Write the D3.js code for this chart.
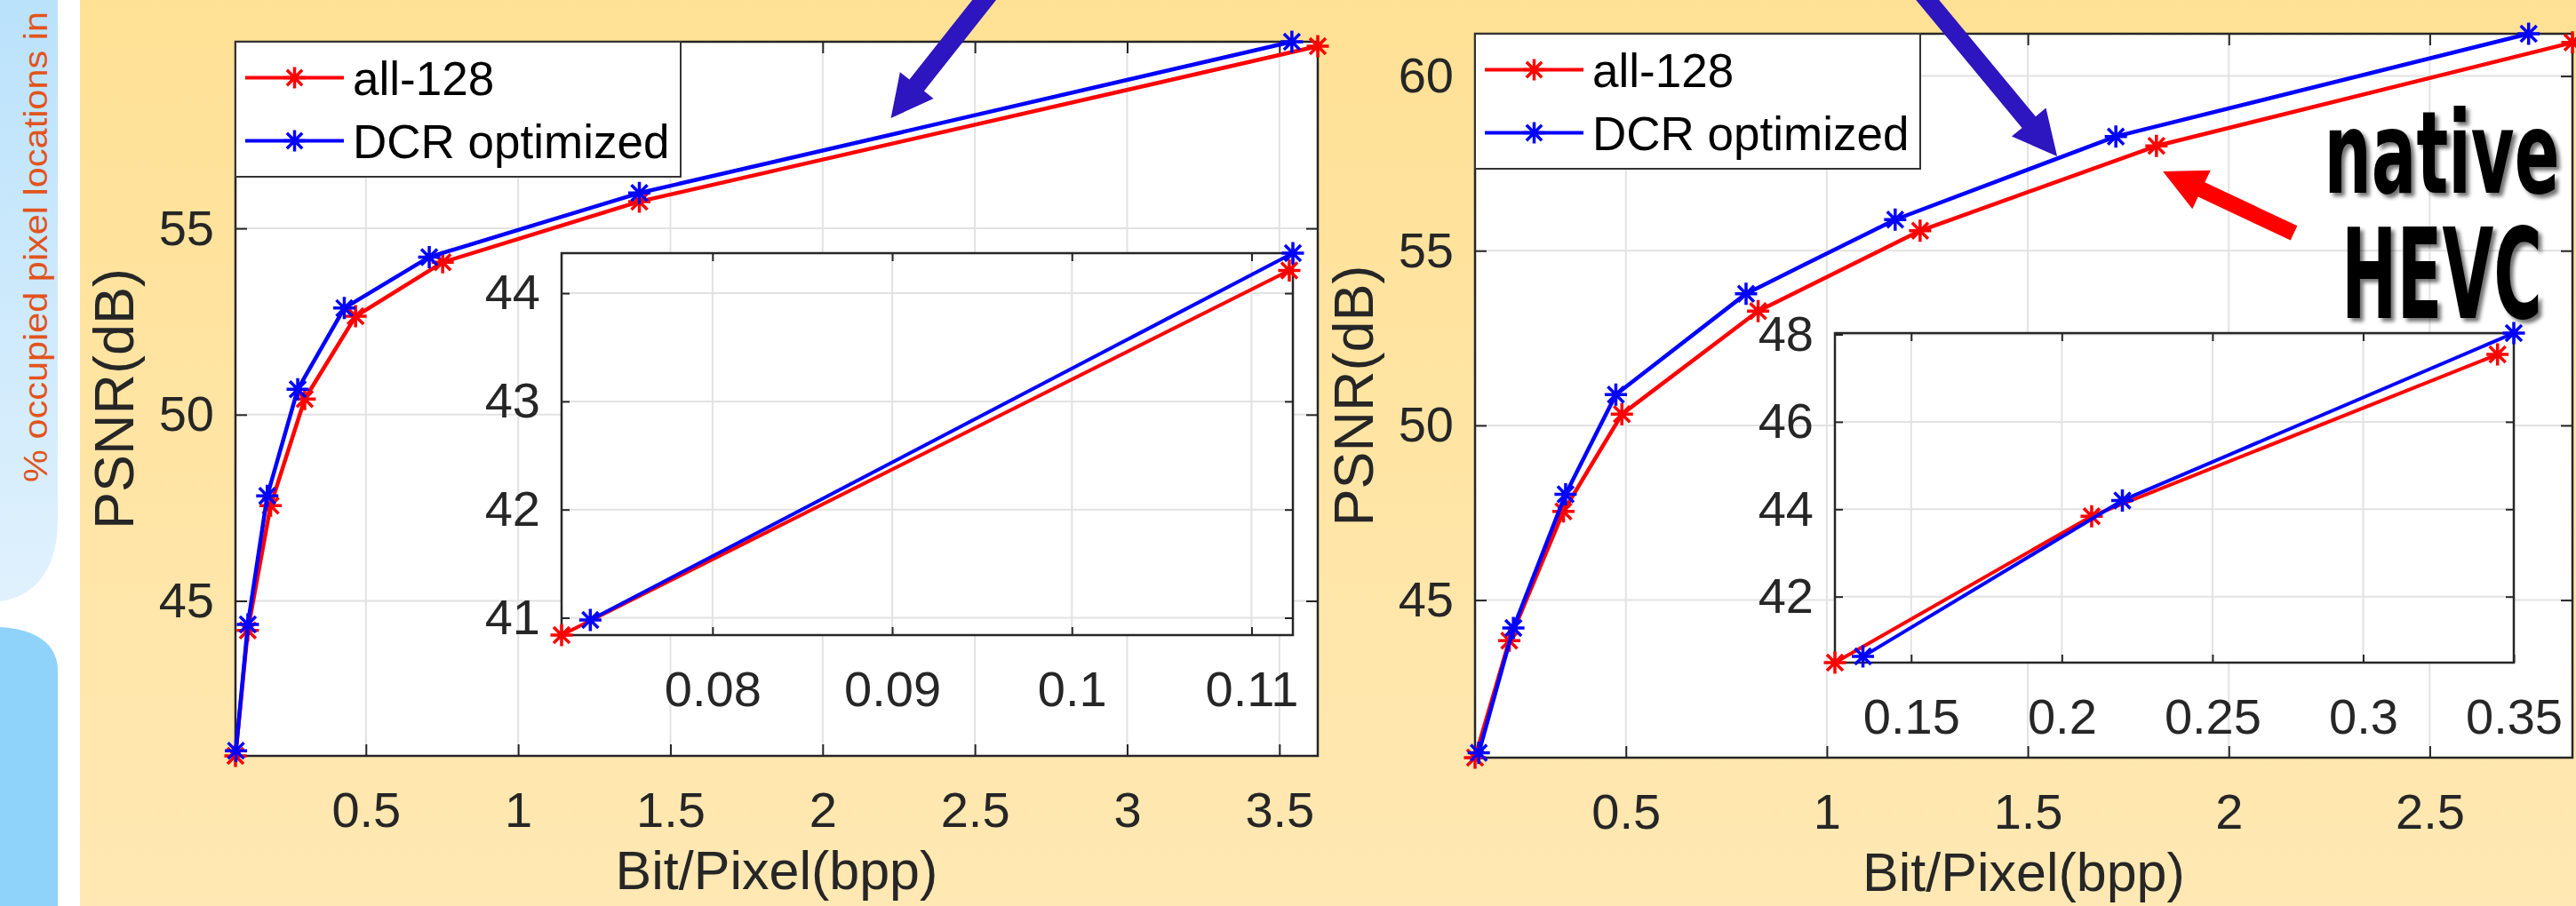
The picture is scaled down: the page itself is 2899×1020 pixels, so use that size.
<!DOCTYPE html>
<meta charset="utf-8">
<style>
body { margin: 0; background: #fff; }
svg { display: block; }
.grid { stroke: #e2e2e2; stroke-width: 2; }
.frame { fill: none; stroke: #262626; stroke-width: 2.5; }
.lab { fill: #262626; font-family: "Liberation Sans", Arial, sans-serif; }
</style>

<svg id="vis" width="2899" height="1020"></svg>
<script src="https://cdn.jsdelivr.net/npm/d3@7"></script>

<script>
// values (PSNR in dB against bits per pixel)
var seriesNames = ["all-128", "DCR optimized"];
var seriesColors = ["#ff0000", "#0000ff"];

// left plot
var leftAllX = [0.0716, 0.1121, 0.187, 0.299, 0.466, 0.752, 1.398, 3.626];
var leftAllY = [40.84, 44.21, 47.56, 50.42, 52.64, 54.09, 55.72, 59.89];
var leftDcrX = [0.0732, 0.1123, 0.176, 0.276, 0.429, 0.708, 1.398, 3.541];
var leftDcrY = [40.98, 44.37, 47.82, 50.68, 52.86, 54.23, 55.95, 60.01];
var leftXTicks = [0.5, 1, 1.5, 2, 2.5, 3, 3.5];
var leftYTicks = [45, 50, 55];
var leftInsetXTicks = [0.08, 0.09, 0.1, 0.11];
var leftInsetYTicks = [41, 42, 43, 44];
var leftInsetCount = 2;   // the inset zooms on the first points only

// right plot
var rightAllX = [0.1247, 0.2099, 0.3446, 0.49, 0.829, 1.232, 1.820, 2.855];
var rightAllY = [40.49, 43.84, 47.54, 50.32, 53.27, 55.57, 58.00, 60.96];
var rightDcrX = [0.134, 0.2201, 0.350, 0.475, 0.799, 1.170, 1.719, 2.746];
var rightDcrY = [40.63, 44.20, 48.03, 50.88, 53.77, 55.89, 58.27, 61.21];
var rightXTicks = [0.5, 1, 1.5, 2, 2.5];
var rightYTicks = [45, 50, 55, 60];
var rightInsetXTicks = [0.15, 0.2, 0.25, 0.3, 0.35];
var rightInsetYTicks = [42, 44, 46, 48];
var rightInsetCount = 3;

// arrow tips, in data units of the plot they point into
var leftArrowTip = [2.224, 57.96];
var rightBlueArrowTip = [1.573, 57.70];
var rightRedArrowTip = [1.836, 57.27];

var font = "'Liberation Sans', Arial, sans-serif";
var svg = d3.select("#vis");

// ---- slide background ----
var defs = svg.append("defs");
var yg = defs.append("linearGradient").attr("id", "yel").attr("x1", 0).attr("y1", 0).attr("x2", 0).attr("y2", 1);
yg.append("stop").attr("offset", 0).attr("stop-color", "#ffe195");
yg.append("stop").attr("offset", 1).attr("stop-color", "#ffe8b3");
var bg = defs.append("linearGradient").attr("id", "lblue").attr("x1", 0).attr("y1", 0).attr("x2", 0).attr("y2", 1);
bg.append("stop").attr("offset", 0).attr("stop-color", "#bae2fb");
bg.append("stop").attr("offset", 1).attr("stop-color", "#e0f1fd");
var sh = defs.append("filter").attr("id", "shadow").attr("x", -0.1).attr("y", -0.1).attr("width", 1.3).attr("height", 1.3);
sh.append("feDropShadow").attr("dx", 4).attr("dy", 4).attr("stdDeviation", 2).attr("flood-color", "#000").attr("flood-opacity", 0.55);

svg.append("rect").attr("x", 90).attr("y", 0).attr("width", 2809).attr("height", 1020).attr("fill", "url(#yel)");
svg.append("path").attr("d", "M0,0H65V585C65,640 40,672 0,677Z").attr("fill", "url(#lblue)");
svg.append("path").attr("d", "M0,706C40,708 65,725 65,755V1020H0Z").attr("fill", "#8fd3fa");
svg.append("text")
    .attr("transform", "translate(53,543) rotate(-90)")
    .attr("font-family", font).attr("font-size", 37)
    .attr("textLength", 530).attr("lengthAdjust", "spacingAndGlyphs")
    .attr("fill", "#e2541c")
    .text("% occupied pixel locations in");

// asterisk marker like matlab '*'
function star(r) {
  var k = r * 0.72;
  return "M0," + (-r) + "V" + r + "M" + (-r) + ",0H" + r +
    "M" + (-k) + "," + (-k) + "L" + k + "," + k + "M" + (-k) + "," + k + "L" + k + "," + (-k);
}

function fmt(d) { return String(d); }

// white box, grid, ticks on all four sides
function drawAxes(g, x, y, xt, yt, tickLen) {
  var r = x.range(), b = y.range();
  g.append("rect").attr("x", r[0]).attr("y", b[1])
    .attr("width", r[1] - r[0]).attr("height", b[0] - b[1]).attr("fill", "#fff");
  g.append("g").selectAll("line").data(xt).join("line")
    .attr("class", "grid").attr("x1", x).attr("x2", x).attr("y1", b[1]).attr("y2", b[0]);
  g.append("g").selectAll("line").data(yt).join("line")
    .attr("class", "grid").attr("y1", y).attr("y2", y).attr("x1", r[0]).attr("x2", r[1]);

  var axes = [
    g.append("g").attr("transform", "translate(0," + b[0] + ")")
      .call(d3.axisBottom(x).tickValues(xt).tickSize(-tickLen).tickPadding(40).tickFormat(fmt)),
    g.append("g").attr("transform", "translate(" + r[0] + ",0)")
      .call(d3.axisLeft(y).tickValues(yt).tickSize(-tickLen).tickPadding(24).tickFormat(fmt)),
    g.append("g").attr("transform", "translate(0," + b[1] + ")")
      .call(d3.axisTop(x).tickValues(xt).tickSize(-tickLen).tickFormat(function() { return ""; })),
    g.append("g").attr("transform", "translate(" + r[1] + ",0)")
      .call(d3.axisRight(y).tickValues(yt).tickSize(-tickLen).tickFormat(function() { return ""; }))
  ];
  axes.forEach(function(a) {
    a.attr("font-size", 56).attr("font-family", font).style("color", "#262626");
    a.select(".domain").remove();
    a.selectAll(".tick line").attr("stroke-width", 2);
  });
  g.append("rect").attr("class", "frame").attr("x", r[0]).attr("y", b[1])
    .attr("width", r[1] - r[0]).attr("height", b[0] - b[1]);
}

function drawSeries(g, x, y, xs, ys, color, lw, n) {
  var pts = d3.zip(xs, ys).slice(0, n);
  g.append("path").datum(pts)
    .attr("d", d3.line().x(function(d) { return x(d[0]); }).y(function(d) { return y(d[1]); }))
    .attr("fill", "none").attr("stroke", color).attr("stroke-width", lw).attr("stroke-linejoin", "round");
  g.append("g").selectAll("path").data(pts).join("path")
    .attr("transform", function(d) { return "translate(" + x(d[0]) + "," + y(d[1]) + ")"; })
    .attr("d", star(12.5))
    .attr("fill", "none").attr("stroke", color).attr("stroke-width", 3.5);
}

function drawLegend(g, left, top) {
  g.append("rect").attr("x", left).attr("y", top).attr("width", 501).attr("height", 152)
    .attr("fill", "#fff").attr("stroke", "#333").attr("stroke-width", 2);
  seriesNames.forEach(function(name, i) {
    var cy = top + 40.5 + i * 71;
    g.append("line").attr("x1", left + 11).attr("x2", left + 122).attr("y1", cy).attr("y2", cy)
      .attr("stroke", seriesColors[i]).attr("stroke-width", 4);
    g.append("path").attr("transform", "translate(" + (left + 66.5) + "," + cy + ")")
      .attr("d", star(12)).attr("fill", "none").attr("stroke", seriesColors[i]).attr("stroke-width", 3.5);
    g.append("text").attr("x", left + 132).attr("y", cy + 19.5)
      .attr("font-family", font).attr("font-size", 53).attr("fill", "#000").text(name);
  });
}

function panel(p) {
  var g = svg.append("g");
  var allX = p.allX.concat(p.dcrX), allY = p.allY.concat(p.dcrY);
  var x = d3.scaleLinear().domain(d3.extent(allX)).range([p.box[0], p.box[2]]);
  var y = d3.scaleLinear().domain(d3.extent(allY)).range([p.box[3], p.box[1]]);
  drawAxes(g, x, y, p.xTicks, p.yTicks, 13);
  drawSeries(g, x, y, p.allX, p.allY, seriesColors[0], 4.5, p.allX.length);
  drawSeries(g, x, y, p.dcrX, p.dcrY, seriesColors[1], 4.5, p.dcrX.length);

  // axis titles
  g.append("text").attr("class", "lab")
    .attr("x", (p.box[0] + p.box[2]) / 2).attr("y", p.box[3] + 150)
    .attr("text-anchor", "middle").attr("font-size", 61).text("Bit/Pixel(bpp)");
  g.append("text").attr("class", "lab")
    .attr("transform", "translate(" + (p.box[0] - 115) + "," + (p.box[1] + p.box[3]) / 2 + ") rotate(-90)")
    .attr("text-anchor", "middle").attr("font-size", 63).text("PSNR(dB)");

  // zoomed inset on the lowest rates
  var n = p.insetCount;
  var ix = d3.scaleLinear()
    .domain(d3.extent(p.allX.slice(0, n).concat(p.dcrX.slice(0, n))))
    .range([p.inset[0], p.inset[2]]);
  var iy = d3.scaleLinear()
    .domain(d3.extent(p.allY.slice(0, n).concat(p.dcrY.slice(0, n))))
    .range([p.inset[3], p.inset[1]]);
  var gi = svg.append("g");
  drawAxes(gi, ix, iy, p.insetXTicks, p.insetYTicks, 9);
  drawSeries(gi, ix, iy, p.allX, p.allY, seriesColors[0], 4, n);
  drawSeries(gi, ix, iy, p.dcrX, p.dcrY, seriesColors[1], 4, n);

  drawLegend(svg.append("g"), p.box[0], p.box[1]);
  return { x: x, y: y };
}

var L = panel({
  allX: leftAllX, allY: leftAllY, dcrX: leftDcrX, dcrY: leftDcrY,
  xTicks: leftXTicks, yTicks: leftYTicks,
  insetXTicks: leftInsetXTicks, insetYTicks: leftInsetYTicks, insetCount: leftInsetCount,
  box: [265, 47, 1483, 851], inset: [632, 285, 1455, 715]
});
var R = panel({
  allX: rightAllX, allY: rightAllY, dcrX: rightDcrX, dcrY: rightDcrY,
  xTicks: rightXTicks, yTicks: rightYTicks,
  insetXTicks: rightInsetXTicks, insetYTicks: rightInsetYTicks, insetCount: rightInsetCount,
  box: [1660, 38, 2895, 853], inset: [2065, 375, 2829, 746]
});

// block arrows (tip given in data units, direction tail->tip)
function arrow(tip, dir, len, sw, hl, hw, color) {
  var m = Math.hypot(dir[0], dir[1]), u = [dir[0] / m, dir[1] / m], n = [-u[1], u[0]];
  var tail = [tip[0] - len * u[0], tip[1] - len * u[1]];
  var base = [tip[0] - hl * u[0], tip[1] - hl * u[1]];
  function off(pt, s) { return [pt[0] + n[0] * s, pt[1] + n[1] * s]; }
  var pts = [off(tail, sw / 2), off(base, sw / 2), off(base, hw), tip,
             off(base, -hw), off(base, -sw / 2), off(tail, -sw / 2)];
  svg.append("polygon").attr("points", pts.join(" ")).attr("fill", color);
}
arrow([L.x(leftArrowTip[0]), L.y(leftArrowTip[1])], [-0.62, 0.785], 230, 21, 47, 24, "#2d15bf");
arrow([R.x(rightBlueArrowTip[0]), R.y(rightBlueArrowTip[1])], [0.638, 0.77], 240, 20, 50, 25, "#2d15bf");
arrow([R.x(rightRedArrowTip[0]), R.y(rightRedArrowTip[1])], [-0.905, -0.426], 163, 18, 48, 24, "#ff0000");

// "native HEVC" call-out, squeezed to the narrow width of the slide lettering
var callout = svg.append("g").attr("filter", "url(#shadow)")
  .attr("font-family", "'DejaVu Sans', sans-serif")
  .attr("font-weight", "bold").attr("fill", "#000");
function squeeze(str, cx, base, size, width) {
  var t = callout.append("text").attr("font-size", size).attr("text-anchor", "middle").text(str);
  var w = t.node().getComputedTextLength();
  t.attr("transform", "translate(" + cx + "," + base + ") scale(" + (width / w) + ",1)");
}
squeeze("native", 2748, 217, 128, 265);
squeeze("HEVC", 2748, 358, 140, 226);
</script>
